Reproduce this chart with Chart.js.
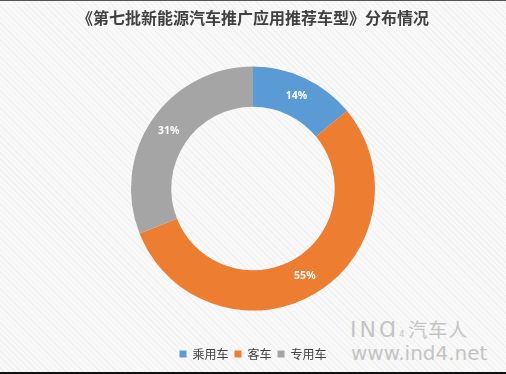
<!DOCTYPE html>
<html><head><meta charset="utf-8">
<script src="https://cdn.jsdelivr.net/npm/chart.js@4/dist/chart.umd.min.js"></script>
<style>
html,body{margin:0;padding:0;}
body{width:506px;height:374px;overflow:hidden;position:relative;
background:#f9f9f9;
background-image:repeating-linear-gradient(45deg,rgba(0,0,0,0.035) 0 1px,transparent 1px 4px);}
#frame{position:absolute;left:0;top:0;width:506px;height:374px;box-sizing:border-box;border-top:1px solid #555;border-bottom:2px solid #111;}
#wrap{position:absolute;left:0;top:0;width:506px;height:374px;}
.wm{position:absolute;color:#c4c4c4;font-family:"DejaVu Sans",sans-serif;white-space:nowrap;}
</style></head>
<body>
<div id="frame"></div>
<div class="wm" style="left:350px;top:315px;font-size:22px;letter-spacing:3px;">IN<span>Ɑ</span><span style="font-size:8px;letter-spacing:0">4</span><span style="font-family:'Noto Sans CJK SC';font-size:19px;letter-spacing:1px;margin-left:4px">汽车人</span></div>
<div class="wm" style="left:351px;top:341px;font-size:20px;">www.ind4.net</div>
<div id="wrap"><canvas id="c" width="506" height="374"></canvas></div>
<script>
const title = '《第七批新能源汽车推广应用推荐车型》分布情况';
const categories = ['乘用车','客车','专用车'];
const shares = [14, 55, 31];
const colors = ['#5b9bd5','#ed7d31','#a5a5a5'];

const labelPlugin = {
  id:'sliceLabels',
  afterDatasetsDraw(chart){
    const ctx = chart.ctx;
    const meta = chart.getDatasetMeta(0);
    ctx.save();
    ctx.fillStyle = '#ffffff';
    ctx.font = 'bold 10.5px "Noto Sans", sans-serif';
    ctx.textAlign = 'center';
    ctx.textBaseline = 'middle';
    meta.data.forEach((arc,i)=>{
      const p = arc.tooltipPosition();
      ctx.fillText(shares[i] + '%', p.x, p.y);
    });
    ctx.restore();
  }
};

new Chart(document.getElementById('c'),{
  type:'doughnut',
  data:{labels:categories,datasets:[{data:shares,backgroundColor:colors,borderWidth:0,radius:122}]},
  options:{
    responsive:false,animation:false,
    cutout:'67%',
    layout:{padding:{top:0,bottom:4,left:0,right:0}},
    plugins:{
      title:{display:true,text:title,color:'#404040',font:{family:'"Noto Sans CJK SC"',size:16,weight:'bold'},padding:{top:8,bottom:8}},
      legend:{position:'bottom',labels:{boxWidth:7,boxHeight:7,color:'#404040',padding:6,font:{family:'"Noto Sans CJK SC"',size:12}}},
      tooltip:{enabled:false}
    }
  },
  plugins:[labelPlugin]
});
</script>
</body></html>
